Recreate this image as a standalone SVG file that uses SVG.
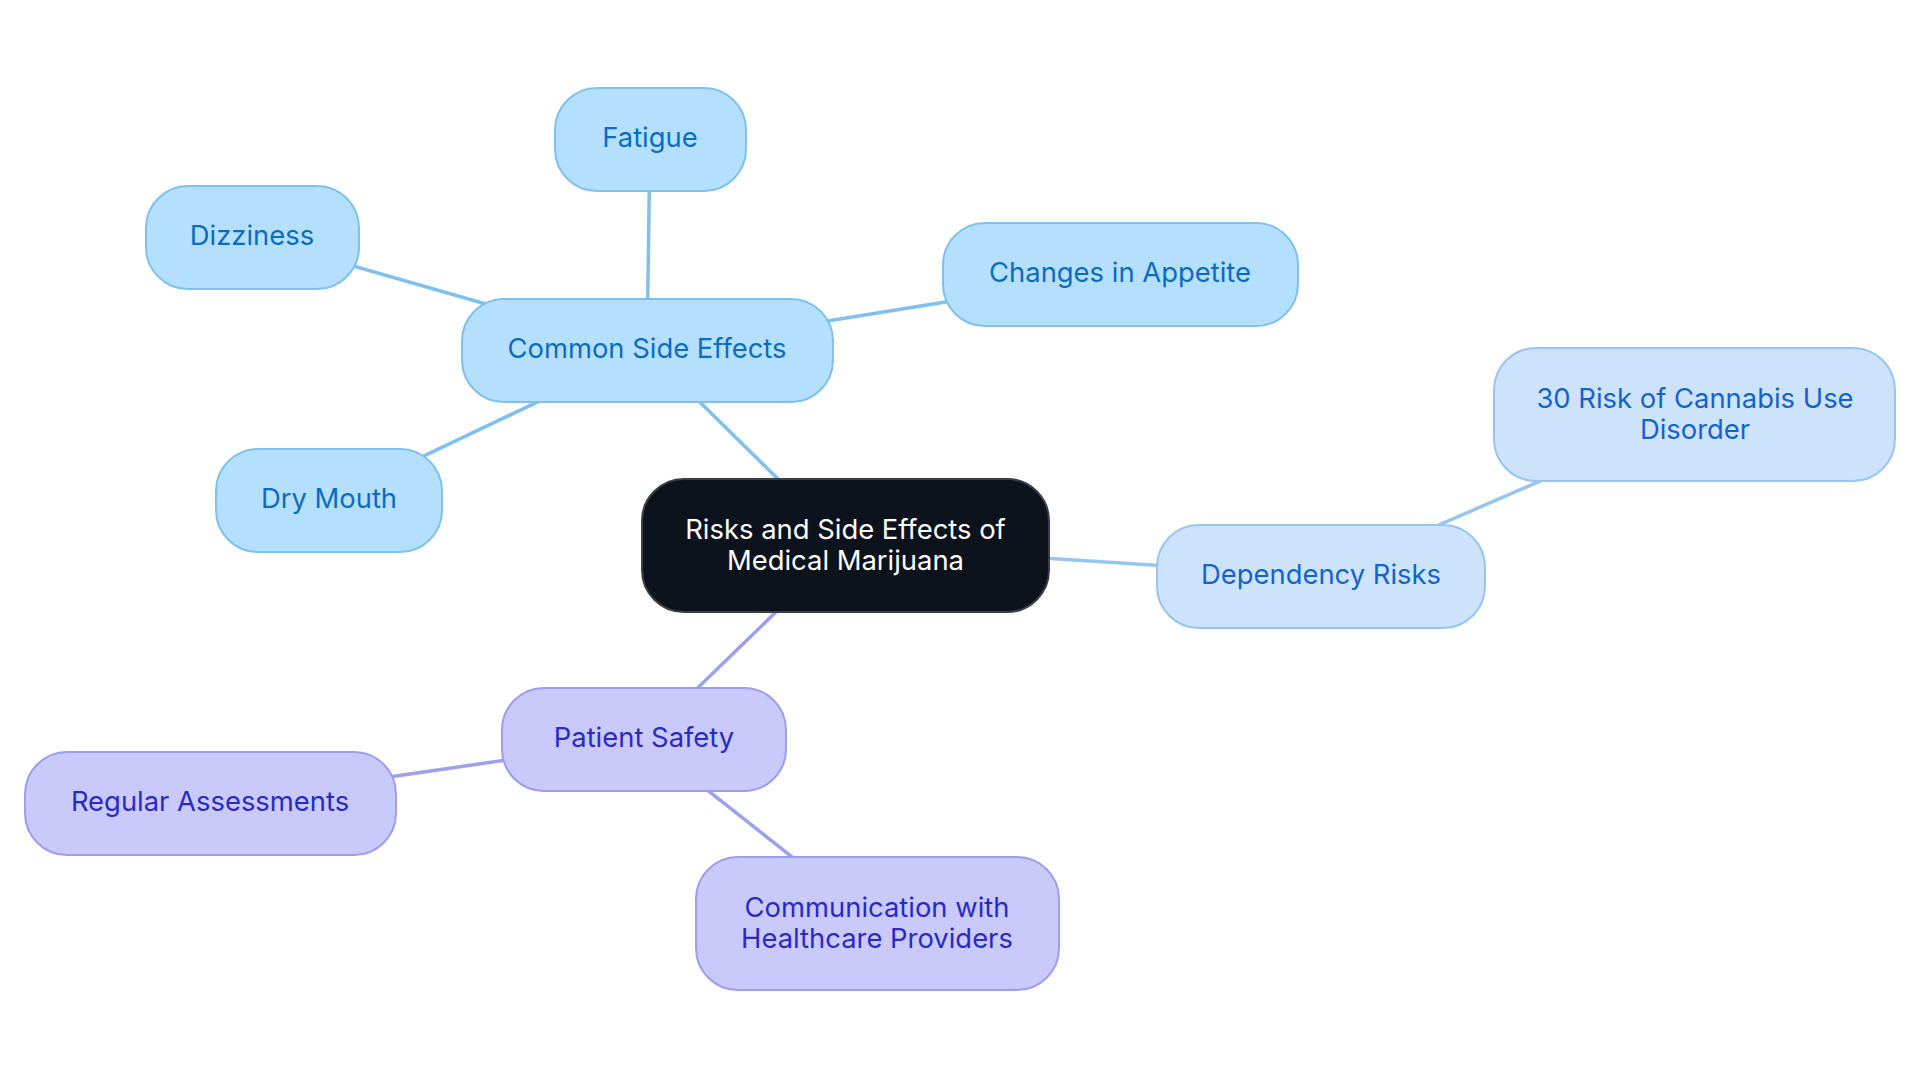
<svg xmlns="http://www.w3.org/2000/svg" width="1920" height="1083" viewBox="0 0 1920 1083">
<style>
text{font-family:Inter,"Noto Sans","Liberation Sans",sans-serif;font-size:27.4px;text-anchor:middle;dominant-baseline:central}
.blue rect{fill:#b4e0fd;stroke:#7fc0ef;stroke-width:2}
.blue text{fill:#0b6cbf}
.dep rect{fill:#cde3fb;stroke:#98c4f0;stroke-width:2}
.dep text{fill:#1463c7}
.pur rect{fill:#c9c9fc;stroke:#9d9def;stroke-width:2}
.pur text{fill:#2a2ac2}
.root rect{fill:#0d131c;stroke:#3a3f47;stroke-width:2}
.root text{fill:#ffffff}
.lb{stroke:#7fc0ef;stroke-width:3.5;fill:none}
.ld{stroke:#98c4f0;stroke-width:3.5;fill:none}
.lp{stroke:#9f9fee;stroke-width:3.5;fill:none}
</style>
<rect width="1920" height="1083" fill="#ffffff"/>
<g id="connectors">
<line class="lb" x1="845" y1="545" x2="647" y2="350"/>
<line class="lb" x1="647" y1="350" x2="650" y2="140"/>
<line class="lb" x1="647" y1="350" x2="252" y2="237"/>
<line class="lb" x1="647" y1="350" x2="1120" y2="274"/>
<line class="lb" x1="647" y1="350" x2="329" y2="501"/>
<line class="ld" x1="845" y1="545" x2="1321" y2="576"/>
<line class="ld" x1="1321" y1="576" x2="1695" y2="414"/>
<line class="lp" x1="845" y1="545" x2="644" y2="740"/>
<line class="lp" x1="644" y1="740" x2="210" y2="803"/>
<line class="lp" x1="644" y1="740" x2="877" y2="924"/>
</g>
<g id="root" class="root">
<rect x="642" y="479" width="407" height="133" rx="42"/>
<text x="845.5" y="529">Risks and Side Effects of</text>
<text x="845.5" y="560">Medical Marijuana</text>
</g>
<g id="common" class="blue">
<rect x="462" y="299" width="371" height="103" rx="42"/>
<text x="647" y="348">Common Side Effects</text>
</g>
<g id="fatigue" class="blue">
<rect x="555" y="88" width="191" height="103" rx="42"/>
<text x="650" y="137">Fatigue</text>
</g>
<g id="dizziness" class="blue">
<rect x="146" y="186" width="213" height="103" rx="42"/>
<text x="252" y="235">Dizziness</text>
</g>
<g id="appetite" class="blue">
<rect x="943" y="223" width="355" height="103" rx="42"/>
<text x="1120" y="272">Changes in Appetite</text>
</g>
<g id="drymouth" class="blue">
<rect x="216" y="449" width="226" height="103" rx="42"/>
<text x="329" y="498">Dry Mouth</text>
</g>
<g id="dependency" class="dep">
<rect x="1157" y="525" width="328" height="103" rx="42"/>
<text x="1321" y="574">Dependency Risks</text>
</g>
<g id="cud" class="dep">
<rect x="1494" y="348" width="401" height="133" rx="42"/>
<text x="1695" y="398">30 Risk of Cannabis Use</text>
<text x="1695" y="429">Disorder</text>
</g>
<g id="safety" class="pur">
<rect x="502" y="688" width="284" height="103" rx="42"/>
<text x="644" y="737">Patient Safety</text>
</g>
<g id="assessments" class="pur">
<rect x="25" y="752" width="371" height="103" rx="42"/>
<text x="210" y="801">Regular Assessments</text>
</g>
<g id="communication" class="pur">
<rect x="696" y="857" width="363" height="133" rx="42"/>
<text x="877" y="907">Communication with</text>
<text x="877" y="938">Healthcare Providers</text>
</g>
</svg>
